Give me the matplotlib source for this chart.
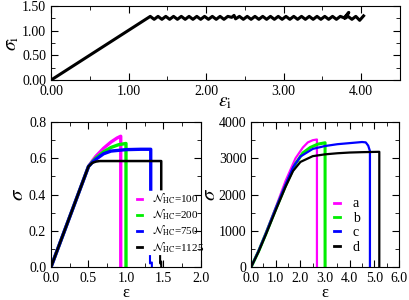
import matplotlib
matplotlib.use("Agg")
import matplotlib.pyplot as plt
from matplotlib.ticker import MultipleLocator, FormatStrFormatter

plt.rcParams['font.family'] = ['Liberation Serif', 'DejaVu Serif']
plt.rcParams['mathtext.fontset'] = 'stix'
plt.rcParams['font.size'] = 10

# --- top panel: single fibre loading, sawtooth after yield ---
top_eps = [0.00, 1.28, 1.33, 1.38, 1.43, 1.48, 1.53, 1.58, 1.63, 1.68, 1.73, 1.78,
           1.83, 1.88, 1.93, 1.98, 2.03, 2.08, 2.13, 2.18, 2.23, 2.28, 2.33, 2.36,
           2.38, 2.43, 2.48, 2.53, 2.58, 2.63, 2.68, 2.73, 2.78, 2.83, 2.88, 2.93,
           2.98, 3.03, 3.08, 3.13, 3.18, 3.23, 3.28, 3.33, 3.38, 3.43, 3.48, 3.53,
           3.58, 3.63, 3.68, 3.73, 3.78, 3.84, 3.79, 3.83, 3.88, 3.93, 3.98, 4.03]
top_sig = [0.00, 1.29, 1.23, 1.29, 1.23, 1.29, 1.23, 1.29, 1.23, 1.29, 1.23, 1.29,
           1.23, 1.29, 1.23, 1.29, 1.23, 1.29, 1.23, 1.29, 1.23, 1.29, 1.27, 1.31,
           1.24, 1.29, 1.23, 1.29, 1.23, 1.29, 1.23, 1.29, 1.23, 1.29, 1.23, 1.29,
           1.23, 1.29, 1.23, 1.29, 1.23, 1.29, 1.23, 1.29, 1.23, 1.29, 1.23, 1.29,
           1.23, 1.29, 1.23, 1.29, 1.26, 1.37, 1.25, 1.29, 1.23, 1.29, 1.21, 1.30]

# --- bottom left: bundles with different N_HC ---
nhc_labels = [r'$\mathcal{N}_{\mathrm{HC}}$=100', r'$\mathcal{N}_{\mathrm{HC}}$=200',
              r'$\mathcal{N}_{\mathrm{HC}}$=750', r'$\mathcal{N}_{\mathrm{HC}}$=1125']
nhc_colors = ['#ff00ff', '#00ee00', '#0000ff', '#000000']
left_eps = [
    [0.0, 0.50, 0.55, 0.60, 0.70, 0.80, 0.88, 0.93, 0.93],
    [0.0, 0.50, 0.55, 0.60, 0.70, 0.80, 0.90, 1.00, 1.00],
    [0.0, 0.50, 0.55, 0.60, 0.70, 0.80, 1.00, 1.20, 1.33, 1.33],
    [0.0, 0.50, 0.55, 0.60, 0.65, 0.70, 0.90, 1.20, 1.47, 1.47],
]
left_sig = [
    [0.0, 0.555, 0.585, 0.612, 0.655, 0.690, 0.712, 0.722, 0.0],
    [0.0, 0.555, 0.580, 0.602, 0.635, 0.660, 0.675, 0.682, 0.0],
    [0.0, 0.555, 0.577, 0.595, 0.625, 0.640, 0.648, 0.650, 0.650, 0.43],
    [0.0, 0.555, 0.575, 0.582, 0.585, 0.585, 0.585, 0.585, 0.585, 0.43],
]
tail_eps = [[1.32, 1.32, 1.345, 1.345], [1.455, 1.455, 1.47, 1.47]]
tail_sig = [[0.06, 0.02, 0.025, 0.0], [0.06, 0.02, 0.03, 0.0]]

# --- bottom right: cases a-d ---
case_labels = ['a', 'b', 'c', 'd']
right_eps = [
    [0.0, 0.3, 0.6, 1.0, 1.4, 1.8, 2.1, 2.3, 2.5, 2.67, 2.67],
    [0.0, 0.3, 0.6, 1.0, 1.4, 1.8, 2.1, 2.4, 2.7, 3.0, 3.0],
    [0.0, 0.3, 0.6, 1.0, 1.4, 1.7, 2.0, 2.5, 3.0, 3.5, 4.0, 4.5, 4.65, 4.75, 4.82, 4.82],
    [0.0, 0.3, 0.6, 1.0, 1.4, 1.7, 2.0, 2.5, 3.0, 3.5, 4.0, 4.5, 5.2, 5.2],
]
right_sig = [
    [0, 450, 950, 1650, 2380, 3000, 3300, 3440, 3500, 3520, 0],
    [0, 430, 920, 1600, 2250, 2850, 3150, 3300, 3390, 3430, 0],
    [0, 440, 930, 1620, 2280, 2750, 3050, 3260, 3340, 3390, 3420, 3450, 3440, 3350, 3200, 0],
    [0, 420, 900, 1570, 2220, 2650, 2900, 3060, 3110, 3140, 3160, 3170, 3180, 0],
]


def style_ticks(ax):
    ax.tick_params(which='both', direction='in', top=True, right=True, labelsize=10)
    ax.tick_params(which='major', length=5)
    ax.tick_params(which='minor', length=3)


fig = plt.figure(figsize=(4.09, 3.0), dpi=100)

# Top panel
ax0 = fig.add_axes([0.1247, 0.733, 0.8533, 0.247])
ax0.plot(top_eps, top_sig, 'k-', lw=2.2)
ax0.set_xlim(0, 4.5); ax0.set_ylim(0, 1.5)
ax0.xaxis.set_major_locator(MultipleLocator(1.0)); ax0.xaxis.set_minor_locator(MultipleLocator(0.5))
ax0.yaxis.set_major_locator(MultipleLocator(0.5)); ax0.yaxis.set_minor_locator(MultipleLocator(0.25))
ax0.xaxis.set_major_formatter(FormatStrFormatter('%.2f'))
ax0.yaxis.set_major_formatter(FormatStrFormatter('%.2f'))
style_ticks(ax0)
ax0.set_xlabel(r'$\varepsilon_{\mathrm{i}}$', fontsize=14, labelpad=-3)
ax0.set_ylabel(r'$\sigma_{\mathrm{i}}$', fontsize=14, labelpad=1)

# Bottom left
ax1 = fig.add_axes([0.1247, 0.11, 0.3667, 0.483])
for xs, ys, c, lab in zip(left_eps, left_sig, nhc_colors, nhc_labels):
    ax1.plot(xs, ys, color=c, lw=2.4 if c != '#000000' else 1.8, label=lab)
for xs, ys, c in zip(tail_eps, tail_sig, nhc_colors[2:]):
    ax1.plot(xs, ys, color=c, lw=1.5)
ax1.set_xlim(0, 2.0); ax1.set_ylim(0, 0.8)
ax1.xaxis.set_major_locator(MultipleLocator(0.5)); ax1.xaxis.set_minor_locator(MultipleLocator(0.25))
ax1.yaxis.set_major_locator(MultipleLocator(0.2)); ax1.yaxis.set_minor_locator(MultipleLocator(0.1))
ax1.xaxis.set_major_formatter(FormatStrFormatter('%.1f'))
ax1.yaxis.set_major_formatter(FormatStrFormatter('%.1f'))
style_ticks(ax1)
ax1.set_xlabel('ε', fontsize=12, labelpad=0)
ax1.set_ylabel(r'$\sigma$', fontsize=15, labelpad=1)
leg1 = ax1.legend(loc='upper left', bbox_to_anchor=(0.575, 0.52), frameon=False, fontsize=8,
                  handlelength=0.45, handletextpad=0.9, labelspacing=0.15, borderpad=0, borderaxespad=0)
for ln in leg1.get_lines():
    ln.set_linewidth(2)

# Bottom right
ax2 = fig.add_axes([0.614, 0.11, 0.3616, 0.483])
for xs, ys, c, lab in zip(right_eps, right_sig, nhc_colors, case_labels):
    ax2.plot(xs, ys, color=c, lw=1.6 if c != '#00ee00' else 2.2, label=lab)
ax2.set_xlim(0, 6.0); ax2.set_ylim(0, 4000)
ax2.xaxis.set_major_locator(MultipleLocator(1.0)); ax2.xaxis.set_minor_locator(MultipleLocator(0.5))
ax2.yaxis.set_major_locator(MultipleLocator(1000)); ax2.yaxis.set_minor_locator(MultipleLocator(500))
ax2.xaxis.set_major_formatter(FormatStrFormatter('%.1f'))
style_ticks(ax2)
ax2.set_xlabel('ε', fontsize=12, labelpad=0)
ax2.set_ylabel(r'$\sigma$', fontsize=15, labelpad=-1)
leg2 = ax2.legend(loc='upper left', bbox_to_anchor=(0.56, 0.48), frameon=False, fontsize=10,
                  handlelength=0.45, handletextpad=0.9, labelspacing=0.1, borderpad=0, borderaxespad=0)
for ln in leg2.get_lines():
    ln.set_linewidth(2)

fig.savefig('out.png', dpi=100)
